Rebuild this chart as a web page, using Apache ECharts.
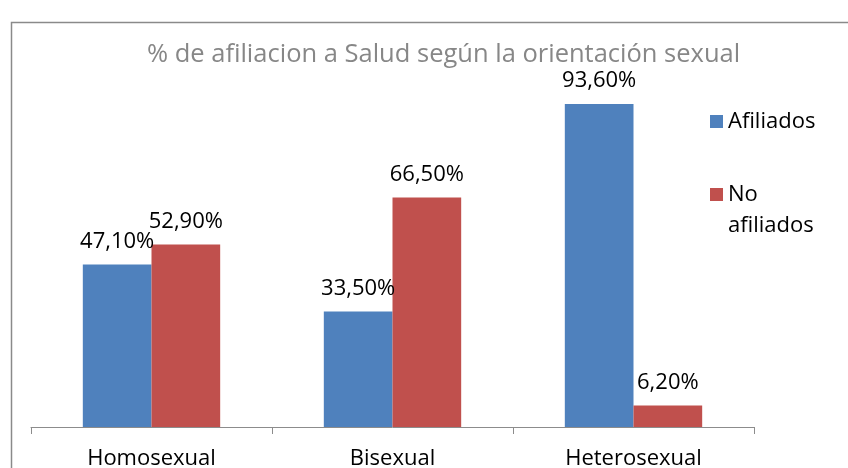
<!DOCTYPE html>
<html>
<head>
<meta charset="utf-8">
<script src="https://cdn.jsdelivr.net/npm/echarts@6/dist/echarts.min.js"></script>
<style>
  html, body { margin: 0; padding: 0; background: #fff; }
  #chart { width: 848px; height: 468px; }
</style>
</head>
<body>
<div id="chart"></div>
<script>
const categories = ['Homosexual', 'Bisexual', 'Heterosexual']
const afiliados = [47.1, 33.5, 93.6]
const noAfiliados = [52.9, 66.5, 6.2]
const seriesNames = ['Afiliados', 'No afiliados']

const FONT = '"Open Sans", "Noto Sans", sans-serif'

// 47.1 -> "47,10%"
const pct = (v) => v.toFixed(2).replace('.', ',') + '%'

const chart = echarts.init(document.getElementById('chart'))

const labelStyle = {
  show: true,
  position: 'top',
  distance: 12,
  color: '#000',
  fontSize: 22,
  fontFamily: FONT,
  formatter: (p) => pct(p.value),
}

chart.setOption({
  backgroundColor: '#fff',
  animation: false,
  textStyle: { fontFamily: FONT },
  title: {
    text: '% de afiliacion a Salud según la orientación sexual',
    left: 142,
    top: 37,
    textStyle: { color: '#878787', fontSize: 25.5, fontWeight: 'normal', fontFamily: FONT },
  },
  graphic: [{
    type: 'rect',
    left: 9,
    top: 20,
    shape: { width: 900, height: 500 },
    style: { fill: 'none', stroke: '#8a8a8a', lineWidth: 1.5 },
    silent: true,
  }],
  legend: {
    orient: 'vertical',
    left: 705,
    top: 101,
    itemWidth: 13,
    itemHeight: 13,
    itemGap: 11,
    icon: 'rect',
    textStyle: { color: '#000', fontSize: 22, fontFamily: FONT, lineHeight: 31 },
    // leading empty line keeps "No" level with the legend square
    formatter: (name) => name === 'No afiliados' ? '\nNo\nafiliados' : name,
    data: seriesNames,
  },
  // labels are allowed to run off the bottom edge like in the original
  grid: { left: 31, right: 94, top: 82, bottom: 41, containLabel: false, outerBoundsMode: 'none' },
  xAxis: {
    type: 'category',
    data: categories,
    axisLine: { lineStyle: { color: '#8c8c8c', width: 1 } },
    axisTick: { show: true, length: 7, lineStyle: { color: '#8c8c8c' } },
    axisLabel: { color: '#000', fontSize: 22, fontFamily: FONT, margin: 21 },
  },
  yAxis: {
    type: 'value',
    min: 0,
    max: 100,
    show: false,
    splitLine: { show: false },
  },
  series: [
    {
      name: seriesNames[0],
      type: 'bar',
      data: afiliados,
      barGap: '0%',
      barCategoryGap: '43%',
      itemStyle: { color: '#4F81BD' },
      label: labelStyle,
    },
    {
      name: seriesNames[1],
      type: 'bar',
      data: noAfiliados,
      itemStyle: { color: '#C0504D' },
      label: labelStyle,
    },
  ],
})

window.addEventListener('resize', () => chart.resize())
</script>
</body>
</html>
